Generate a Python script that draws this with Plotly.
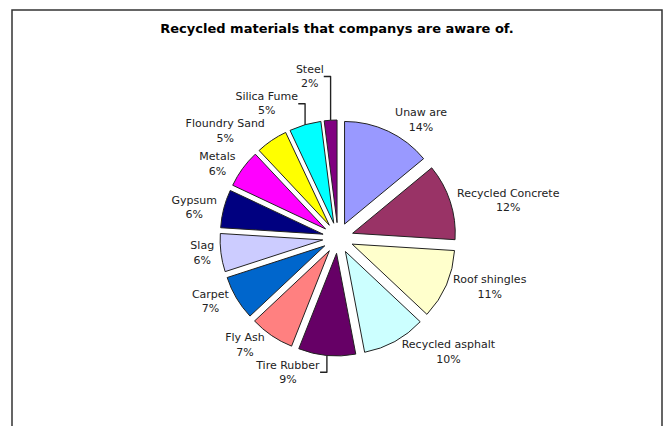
import plotly.graph_objects as go

labels = ["Unaw are", "Recycled Concrete", "Roof shingles", "Recycled asphalt",
          "Tire Rubber", "Fly Ash", "Carpet", "Slag", "Gypsum", "Metals",
          "Floundry Sand", "Silica Fume", "Steel"]
values = [14, 12, 11, 10, 9, 7, 7, 6, 6, 6, 5, 5, 2]
colors = ["#9999FF", "#993366", "#FFFFCC", "#CCFFFF", "#660066", "#FF8080",
          "#0066CC", "#CCCCFF", "#000080", "#FF00FF", "#FFFF00", "#00FFFF", "#800080"]

W, H = 667, 426
cx, cy, half = 338, 238, 118

fig = go.Figure(go.Pie(
    labels=labels,
    values=values,
    sort=False,
    direction="clockwise",
    rotation=0,
    pull=[0.15] * len(values),
    marker=dict(colors=colors, line=dict(color="#222222", width=1)),
    texttemplate="%{label}<br>%{percent:.0%}",
    textposition="outside",
    outsidetextfont=dict(family="DejaVu Sans, sans-serif", size=11, color="#222222"),
    showlegend=False,
    hoverinfo="label+percent",
    domain=dict(x=[(cx - half) / W, (cx + half) / W],
                y=[(H - cy - half) / H, (H - cy + half) / H]),
))

fig.update_layout(
    width=W, height=H,
    margin=dict(l=0, r=0, t=0, b=0),
    paper_bgcolor="white",
    title=dict(text="<b>Recycled materials that companys are aware of.</b>",
               x=337 / W, xanchor="center", y=1 - 28 / H, yanchor="middle",
               font=dict(family="DejaVu Sans, sans-serif", size=13, color="black")),
    shapes=[dict(type="rect", xref="paper", yref="paper",
                 x0=12 / W, x1=662 / W, y0=-0.1, y1=1 - 10 / H,
                 line=dict(color="#333333", width=1.5), fillcolor="rgba(0,0,0,0)")],
)

fig.write_html("out.html")
